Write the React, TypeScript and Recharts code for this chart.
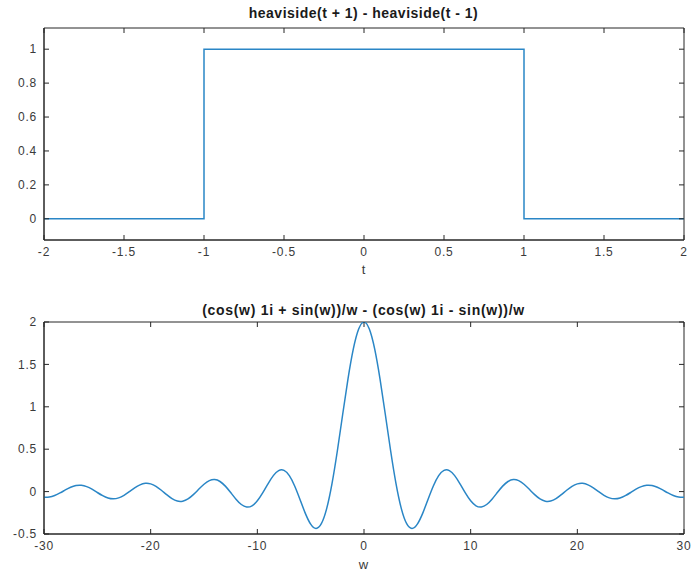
import React from 'react';
import { LineChart, Line, XAxis, YAxis, ReferenceArea } from 'recharts';

// ---- Top subplot data ----
const T_VALUES = [-2, -1, -1, 1, 1, 2];
const PULSE_VALUES = [0, 0, 1, 1, 0, 0];
const T_TICKS = [-2, -1.5, -1, -0.5, 0, 0.5, 1, 1.5, 2];
const PULSE_TICKS = [0, 0.2, 0.4, 0.6, 0.8, 1];

// ---- Bottom subplot data ----
const W_VALUES = [
  -30, -29.5, -29, -28.5, -28, -27.5, -27, -26.5, -26, -25.5, -25, -24.5, -24, -23.5, -23, -22.5, -22, -21.5, -21, -20.5,
  -20, -19.5, -19, -18.5, -18, -17.5, -17, -16.5, -16, -15.5, -15, -14.5, -14, -13.5, -13, -12.5, -12, -11.5, -11, -10.5,
  -10, -9.5, -9, -8.5, -8, -7.5, -7, -6.5, -6, -5.5, -5, -4.5, -4, -3.5, -3, -2.5, -2, -1.5, -1, -0.5,
  0,
  0.5, 1, 1.5, 2, 2.5, 3, 3.5, 4, 4.5, 5, 5.5, 6, 6.5, 7, 7.5, 8, 8.5, 9, 9.5, 10,
  10.5, 11, 11.5, 12, 12.5, 13, 13.5, 14, 14.5, 15, 15.5, 16, 16.5, 17, 17.5, 18, 18.5, 19, 19.5, 20,
  20.5, 21, 21.5, 22, 22.5, 23, 23.5, 24, 24.5, 25, 25.5, 26, 26.5, 27, 27.5, 28, 28.5, 29, 29.5, 30,
];
const SPECTRUM_VALUES = [
  -0.0659, -0.0638, -0.0458, -0.0157, 0.0193, 0.0511, 0.0708, 0.0739, 0.0587, 0.0282, -0.0106, -0.0483, -0.0755, -0.085, -0.0736, -0.0433, -0.0008, 0.0439, 0.0797, 0.0972,
  0.0913, 0.0621, 0.0158, -0.0366, -0.0834, -0.112, -0.1131, -0.0863, -0.036, 0.0266, 0.0867, 0.129, 0.1415, 0.1191, 0.0646, -0.0106, -0.0894, -0.1523, -0.1818, -0.1676,
  -0.1088, -0.0158, 0.0916, 0.1879, 0.2473, 0.2501, 0.1877, 0.0662, -0.0931, -0.2565, -0.3836, -0.4345, -0.3784, -0.2004, 0.0941, 0.4788, 0.9093, 1.33, 1.6829, 1.9177,
  2,
  1.9177, 1.6829, 1.33, 0.9093, 0.4788, 0.0941, -0.2004, -0.3784, -0.4345, -0.3836, -0.2565, -0.0931, 0.0662, 0.1877, 0.2501, 0.2473, 0.1879, 0.0916, -0.0158, -0.1088,
  -0.1676, -0.1818, -0.1523, -0.0894, -0.0106, 0.0646, 0.1191, 0.1415, 0.129, 0.0867, 0.0266, -0.036, -0.0863, -0.1131, -0.112, -0.0834, -0.0366, 0.0158, 0.0621, 0.0913,
  0.0972, 0.0797, 0.0439, -0.0008, -0.0433, -0.0736, -0.085, -0.0755, -0.0483, -0.0106, 0.0282, 0.0587, 0.0739, 0.0708, 0.0511, 0.0193, -0.0157, -0.0458, -0.0638, -0.0659,
];
const W_TICKS = [-30, -20, -10, 0, 10, 20, 30];
const SPECTRUM_TICKS = [-0.5, 0, 0.5, 1, 1.5, 2];

const TOP_TITLE = 'heaviside(t + 1) - heaviside(t - 1)';
const BOTTOM_TITLE = '(cos(w) 1i + sin(w))/w - (cos(w) 1i - sin(w))/w';

const pulseData = T_VALUES.map((t, i) => ({ x: t, y: PULSE_VALUES[i] }));
const spectrumData = W_VALUES.map((w, i) => ({ x: w, y: SPECTRUM_VALUES[i] }));

const AXIS_COLOR = '#262626';
const LINE_COLOR = '#2a86c6';
const FONT = '"Liberation Sans", Arial, Helvetica, sans-serif';
const tickStyle = { fontSize: 12, fill: '#3a3a3a', fontFamily: FONT, letterSpacing: 0.8 };
const blank = () => '';

function Panel(props: {
  data: { x: number; y: number }[];
  xDomain: [number, number];
  yDomain: [number, number];
  xTicks: number[];
  yTicks: number[];
  height: number;
  marginTop: number;
  marginBottom: number;
  curve: 'linear' | 'natural';
}) {
  const { data, xDomain, yDomain, xTicks, yTicks, height, marginTop, marginBottom, curve } = props;
  return (
    <LineChart
      width={691}
      height={height}
      data={data}
      margin={{ top: marginTop - 1, right: 7, bottom: marginBottom, left: 4 }}
    >
      <XAxis
        xAxisId="b"
        dataKey="x"
        type="number"
        domain={xDomain}
        ticks={xTicks}
        allowDataOverflow
        height={30}
        stroke={AXIS_COLOR}
        tickSize={-5}
        tickMargin={12}
        tick={tickStyle}
        interval={0}
      />
      <XAxis
        xAxisId="t"
        orientation="top"
        dataKey="x"
        type="number"
        domain={xDomain}
        ticks={xTicks}
        allowDataOverflow
        height={1}
        mirror
        stroke={AXIS_COLOR}
        axisLine={false}
        tickSize={5}
        tickFormatter={blank}
        interval={0}
      />
      <YAxis
        yAxisId="l"
        type="number"
        domain={yDomain}
        ticks={yTicks}
        allowDataOverflow
        width={40}
        stroke={AXIS_COLOR}
        tickSize={-5}
        tickMargin={12}
        tick={tickStyle}
        interval={0}
      />
      <YAxis
        yAxisId="r"
        orientation="right"
        type="number"
        domain={yDomain}
        ticks={yTicks}
        allowDataOverflow
        width={1}
        mirror
        stroke={AXIS_COLOR}
        axisLine={false}
        tickSize={5}
        tickFormatter={blank}
        interval={0}
      />
      <ReferenceArea
        xAxisId="b"
        yAxisId="l"
        x1={xDomain[0]}
        x2={xDomain[1]}
        y1={yDomain[0]}
        y2={yDomain[1]}
        fill="none"
        fillOpacity={0}
        stroke={AXIS_COLOR}
        strokeWidth={1}
        ifOverflow="visible"
      />
      <Line
        xAxisId="b"
        yAxisId="l"
        dataKey="y"
        type={curve}
        stroke={LINE_COLOR}
        strokeWidth={1.5}
        dot={false}
        isAnimationActive={false}
      />
    </LineChart>
  );
}

const textBase: React.CSSProperties = {
  position: 'absolute',
  fontFamily: FONT,
  color: '#1a1a1a',
  textAlign: 'center',
  whiteSpace: 'nowrap',
  lineHeight: '16px',
};

export default function App() {
  return (
    <div style={{ position: 'absolute', left: 0, top: 0, width: 691, height: 575, background: '#fff' }}>
      <div style={{ position: 'absolute', left: 0, top: 0 }}>
        <Panel
          data={pulseData}
          xDomain={[-2, 2]}
          yDomain={[-0.125, 1.125]}
          xTicks={T_TICKS}
          yTicks={PULSE_TICKS}
          height={287}
          marginTop={29}
          marginBottom={17}
          curve="linear"
        />
      </div>
      <div style={{ position: 'absolute', left: 0, top: 287 }}>
        <Panel
          data={spectrumData}
          xDomain={[-30, 30]}
          yDomain={[-0.5, 2]}
          xTicks={W_TICKS}
          yTicks={SPECTRUM_TICKS}
          height={288}
          marginTop={36}
          marginBottom={11}
          curve="natural"
        />
      </div>
      <div style={{ ...textBase, left: 44, width: 639, top: 5, fontSize: 14, fontWeight: 'bold', letterSpacing: 0.5 }}>{TOP_TITLE}</div>
      <div style={{ ...textBase, left: 44, width: 639, top: 302, fontSize: 14, fontWeight: 'bold', letterSpacing: 0.7 }}>{BOTTOM_TITLE}</div>
      <div style={{ ...textBase, left: 44, width: 639, top: 262, fontSize: 13, color: '#3a3a3a' }}>t</div>
      <div style={{ ...textBase, left: 44, width: 639, top: 557, fontSize: 13, color: '#3a3a3a' }}>w</div>
    </div>
  );
}
